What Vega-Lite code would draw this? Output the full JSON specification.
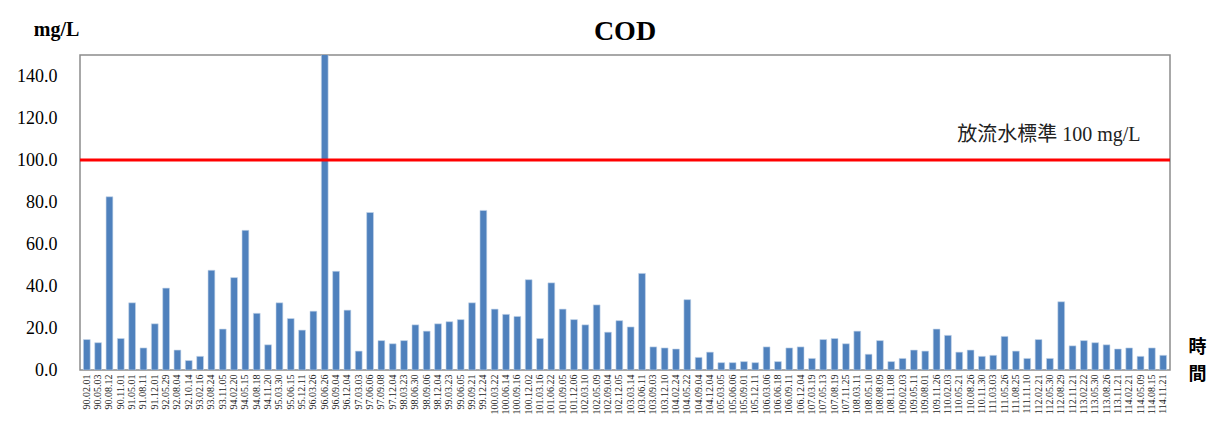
{
  "$schema": "https://vega.github.io/schema/vega-lite/v6.json",
  "width": 1090,
  "height": 315,
  "autosize": {"type": "none"},
  "padding": {"left": 80, "top": 55, "right": 51, "bottom": 67},
  "background": "white",
  "config": {
    "view": {"stroke": "#8c8c8c", "strokeWidth": 1.5},
    "font": "Liberation Serif"
  },
  "title": {
    "text": "COD",
    "font": "Liberation Serif",
    "fontSize": 28,
    "fontWeight": "bold",
    "color": "black",
    "anchor": "middle",
    "frame": "group",
    "offset": 14,
    "dy": 41
  },
  "datasets": {
    "cod": [
      {"date": "90.02.01", "cod": 14.5}, {"date": "90.05.03", "cod": 13}, {"date": "90.08.12", "cod": 82.5}, {"date": "90.11.01", "cod": 15},
      {"date": "91.05.01", "cod": 32}, {"date": "91.08.11", "cod": 10.5}, {"date": "91.12.01", "cod": 22}, {"date": "92.05.29", "cod": 39},
      {"date": "92.08.04", "cod": 9.5}, {"date": "92.10.14", "cod": 4.5}, {"date": "93.02.16", "cod": 6.5}, {"date": "93.08.24", "cod": 47.5},
      {"date": "93.11.05", "cod": 19.5}, {"date": "94.02.20", "cod": 44}, {"date": "94.05.15", "cod": 66.5}, {"date": "94.08.18", "cod": 27},
      {"date": "94.11.20", "cod": 12}, {"date": "95.03.30", "cod": 32}, {"date": "95.06.15", "cod": 24.5}, {"date": "95.12.11", "cod": 19},
      {"date": "96.03.26", "cod": 28}, {"date": "96.06.26", "cod": 160}, {"date": "96.09.04", "cod": 47}, {"date": "96.12.04", "cod": 28.5},
      {"date": "97.03.03", "cod": 9}, {"date": "97.06.06", "cod": 75}, {"date": "97.09.08", "cod": 14}, {"date": "97.12.04", "cod": 12.5},
      {"date": "98.03.23", "cod": 14}, {"date": "98.06.30", "cod": 21.5}, {"date": "98.09.06", "cod": 18.5}, {"date": "98.12.04", "cod": 22},
      {"date": "99.03.23", "cod": 23}, {"date": "99.06.05", "cod": 24}, {"date": "99.09.21", "cod": 32}, {"date": "99.12.24", "cod": 76},
      {"date": "100.03.22", "cod": 29}, {"date": "100.06.14", "cod": 26.5}, {"date": "100.09.16", "cod": 25.5}, {"date": "100.12.02", "cod": 43},
      {"date": "101.03.16", "cod": 15}, {"date": "101.06.22", "cod": 41.5}, {"date": "101.09.05", "cod": 29}, {"date": "101.12.06", "cod": 24},
      {"date": "102.03.10", "cod": 21.5}, {"date": "102.05.09", "cod": 31}, {"date": "102.09.04", "cod": 18}, {"date": "102.12.05", "cod": 23.5},
      {"date": "103.03.14", "cod": 20.5}, {"date": "103.06.11", "cod": 46}, {"date": "103.09.03", "cod": 11}, {"date": "103.12.10", "cod": 10.5},
      {"date": "104.02.24", "cod": 10}, {"date": "104.05.22", "cod": 33.5}, {"date": "104.09.04", "cod": 6}, {"date": "104.12.04", "cod": 8.5},
      {"date": "105.03.05", "cod": 3.5}, {"date": "105.06.06", "cod": 3.5}, {"date": "105.09.01", "cod": 4}, {"date": "105.12.11", "cod": 3.5},
      {"date": "106.03.06", "cod": 11}, {"date": "106.06.18", "cod": 4}, {"date": "106.09.11", "cod": 10.5}, {"date": "106.12.04", "cod": 11},
      {"date": "107.03.19", "cod": 5.5}, {"date": "107.05.13", "cod": 14.5}, {"date": "107.08.19", "cod": 15}, {"date": "107.11.25", "cod": 12.5},
      {"date": "108.03.11", "cod": 18.5}, {"date": "108.05.10", "cod": 7.5}, {"date": "108.08.09", "cod": 14}, {"date": "108.11.08", "cod": 4},
      {"date": "109.02.03", "cod": 5.5}, {"date": "109.05.11", "cod": 9.5}, {"date": "109.08.01", "cod": 9}, {"date": "109.11.26", "cod": 19.5},
      {"date": "110.02.03", "cod": 16.5}, {"date": "110.05.21", "cod": 8.5}, {"date": "110.08.26", "cod": 9.5}, {"date": "110.11.30", "cod": 6.5},
      {"date": "111.03.03", "cod": 7}, {"date": "111.05.26", "cod": 16}, {"date": "111.08.25", "cod": 9}, {"date": "111.11.10", "cod": 5.5},
      {"date": "112.02.21", "cod": 14.5}, {"date": "112.05.30", "cod": 5.5}, {"date": "112.08.29", "cod": 32.5}, {"date": "112.11.21", "cod": 11.5},
      {"date": "113.02.22", "cod": 14}, {"date": "113.05.30", "cod": 13}, {"date": "113.08.26", "cod": 12}, {"date": "113.11.21", "cod": 10},
      {"date": "114.02.21", "cod": 10.5}, {"date": "114.05.09", "cod": 6.5}, {"date": "114.08.15", "cod": 10.5}, {"date": "114.11.21", "cod": 7}
    ],
    "standard": [
      {"limit": 100, "label": "放流水標準 100 mg/L", "at": "114.05.09"}
    ]
  },
  "layer": [
    {
      "data": {"name": "cod"},
      "mark": {"type": "bar", "color": "#4F81BD", "clip": true, "stroke": "#c5d5ea", "strokeWidth": 0.6},
      "encoding": {
        "x": {
          "field": "date",
          "type": "nominal",
          "sort": null,
          "scale": {"paddingInner": 0.4, "paddingOuter": 0.3},
          "axis": {
            "title": ["時", "間"],
            "titleFont": "Noto Sans CJK TC",
            "titleFontSize": 18,
            "titleFontWeight": "bold",
            "titleColor": "black",
            "titleAngle": 0,
            "titleAlign": "center",
            "titleBaseline": "top",
            "titleLineHeight": 27,
            "titleX": 1117,
            "titleY": -32,
            "labelAngle": -90,
            "labelFont": "Liberation Serif",
            "labelFontSize": 10,
            "labelColor": "#222222",
            "labelPadding": 4,
            "labelOverlap": false,
            "ticks": false,
            "domain": false
          }
        },
        "y": {
          "field": "cod",
          "type": "quantitative",
          "scale": {"domain": [0, 150], "nice": false},
          "axis": {
            "values": [0, 20, 40, 60, 80, 100, 120, 140],
            "format": ".1f",
            "grid": false,
            "domain": false,
            "ticks": false,
            "labelFont": "Liberation Serif",
            "labelFontSize": 18,
            "labelColor": "black",
            "labelPadding": 23,
            "title": "mg/L",
            "titleFont": "Liberation Serif",
            "titleFontSize": 20,
            "titleFontWeight": "bold",
            "titleColor": "black",
            "titleAngle": 0,
            "titleAlign": "center",
            "titleBaseline": "middle",
            "titleX": -24,
            "titleY": -26
          }
        }
      }
    },
    {
      "data": {"name": "standard"},
      "mark": {"type": "rule", "color": "#ff0000", "strokeWidth": 3},
      "encoding": {
        "y": {"field": "limit", "type": "quantitative"}
      }
    },
    {
      "data": {"name": "standard"},
      "mark": {"type": "text", "align": "right", "baseline": "alphabetic", "dy": -19, "fontSize": 20, "font": "Liberation Serif, Noto Sans CJK TC", "color": "#222222"},
      "encoding": {
        "x": {"field": "at", "type": "nominal", "sort": null},
        "y": {"field": "limit", "type": "quantitative"},
        "text": {"field": "label"}
      }
    }
  ]
}
